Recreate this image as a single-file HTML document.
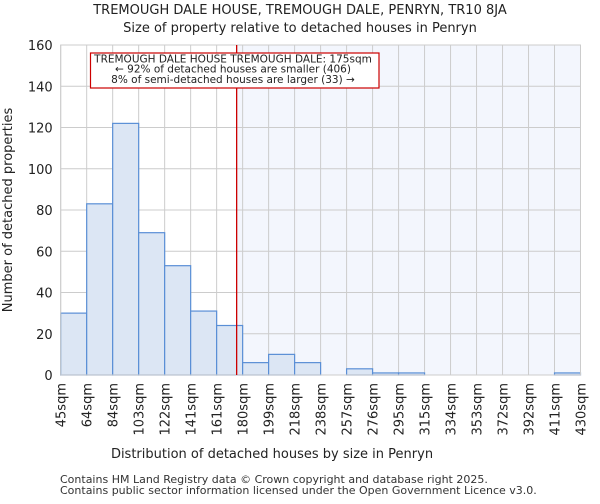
<!DOCTYPE html>
<html><head><meta charset="utf-8"><style>
body{margin:0;background:#fff;font-family:"DejaVu Sans","Liberation Sans",sans-serif}
text{font-family:"DejaVu Sans","Liberation Sans",sans-serif}
</style></head><body>
<svg id="c" width="600" height="500" xmlns="http://www.w3.org/2000/svg">
<text x="300" y="14" text-anchor="middle" font-size="13" fill="#222">TREMOUGH DALE HOUSE, TREMOUGH DALE, PENRYN, TR10 8JA</text>
<text x="300" y="32" text-anchor="middle" font-size="13" fill="#222">Size of property relative to detached houses in Penryn</text>
<g id="plot"></g>
<text x="272" y="458" text-anchor="middle" font-size="13" fill="#222">Distribution of detached houses by size in Penryn</text>
<text transform="translate(12,210) rotate(-90)" text-anchor="middle" font-size="13" fill="#222">Number of detached properties</text>
<text x="60" y="483" font-size="11" fill="#333">Contains HM Land Registry data © Crown copyright and database right 2025.</text>
<text x="60" y="494" font-size="11" fill="#333">Contains public sector information licensed under the Open Government Licence v3.0.</text>
</svg>
<script>
const binLabels=["45sqm","64sqm","84sqm","103sqm","122sqm","141sqm","161sqm","180sqm","199sqm","218sqm","238sqm","257sqm","276sqm","295sqm","315sqm","334sqm","353sqm","372sqm","392sqm","411sqm","430sqm"];
const counts=[30,83,122,69,53,31,24,6,10,6,0,3,1,1,0,0,0,0,0,1];
const yTicks=[0,20,40,60,80,100,120,140,160];
const markerBin=6.77;
const NS="http://www.w3.org/2000/svg";
const L=60.7,R=580.5,T=45,B=375,yMax=160;
const n=counts.length;
const xs=i=>L+(R-L)*i/n;
const ys=v=>B-(B-T)*v/yMax;
const g=document.getElementById('plot');
function mk(tag,attrs){const e=document.createElementNS(NS,tag);for(const k in attrs)e.setAttribute(k,attrs[k]);g.appendChild(e);return e;}
const mx=xs(markerBin);
let e=mk('rect',{x:mx,y:T,width:R-mx,height:B-T,fill:'#f3f6fd'});


yTicks.forEach(t=>{
 let l=mk('line',{x1:L,x2:R,y1:ys(t),y2:ys(t),stroke:'#ccc','stroke-width':1});
 
 
 let tx=mk('text',{x:L-8,y:ys(t)+5,'text-anchor':'end','font-size':13,fill:'#222'});
 tx.textContent=t;
 
 
});
binLabels.forEach((lab,i)=>{
 let l=mk('line',{x1:xs(i),x2:xs(i),y1:T,y2:B,stroke:'#ccc','stroke-width':1});
 
 
 let tx=mk('text',{transform:`translate(${xs(i)+5},${B+8}) rotate(-90)`,'text-anchor':'end','font-size':13,fill:'#222'});
 tx.textContent=lab;
 
 
});
counts.forEach((c,i)=>{
 if(c<=0)return;
 let r=mk('rect',{x:xs(i),y:ys(c),width:xs(i+1)-xs(i),height:B-ys(c),fill:'#dce6f4',stroke:'#5a8fd6','stroke-width':1.2});
 
 
});
let ax=mk('rect',{x:L,y:T,width:R-L,height:B-T,fill:'none',stroke:'#ccc'});


let ml=mk('line',{x1:mx,x2:mx,y1:T,y2:B,stroke:'#cc0000','stroke-width':1.3});


let box=mk('rect',{x:90.5,y:53,width:288.5,height:35,fill:'#fff',stroke:'#cc0000','stroke-width':1.2});


["TREMOUGH DALE HOUSE TREMOUGH DALE: 175sqm","← 92% of detached houses are smaller (406)","8% of semi-detached houses are larger (33) →"].forEach((s,i)=>{
 let t=mk('text',{x:233,y:62.5+i*10.2,'text-anchor':'middle','font-size':10.5,fill:'#222'});
 t.textContent=s;
 
 
});
</script>
</body></html>
